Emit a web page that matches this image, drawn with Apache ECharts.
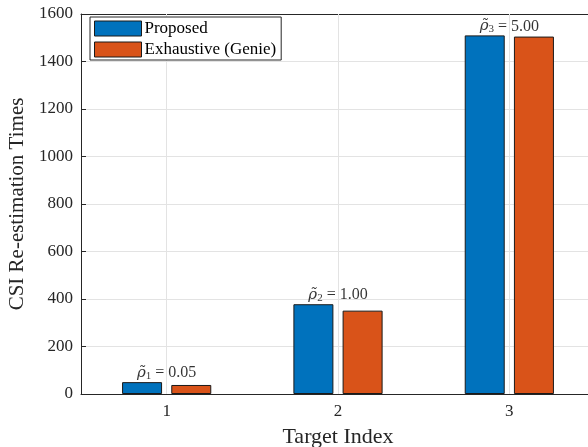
<!DOCTYPE html>
<html>
<head>
<meta charset="utf-8">
<script src="https://cdn.jsdelivr.net/npm/echarts@6/dist/echarts.min.js"></script>
<style>
  html, body { margin: 0; padding: 0; overflow: hidden; background: #fff; }
  #chart { width: 588px; height: 447px; }
</style>
</head>
<body>
<div id="chart"></div>
<script>
// Target indices and re-estimation counts per method
const categories = ['1', '2', '3'];
const proposed = [50, 378, 1510];
const exhaustive = [38, 351, 1505];
const rhoLabels = ['0.05', '1.00', '5.00'];
const rhoSubs = ['1', '2', '3'];
const yTicks = [0, 200, 400, 600, 800, 1000, 1200, 1400, 1600];

const serif = '"Liberation Serif", "DejaVu Serif", serif';
const axisColor = '#262626';
const gridColor = '#e3e3e3';

const chart = echarts.init(document.getElementById('chart'));

// annotation anchors sit on the taller bar of each group
const annot = categories.map((c, i) => ({
  value: [c, Math.max(proposed[i], exhaustive[i])],
  idx: i
}));

chart.setOption({
  animation: false,
  textStyle: { fontFamily: serif },
  // plot box runs slightly past the right edge of the canvas
  grid: { left: 81, top: 14, right: -7, bottom: 53, containLabel: false, outerBoundsMode: 'none' },
  legend: {
    left: 90, top: 17,
    z: 20,
    orient: 'vertical',
    data: ['Proposed', 'Exhaustive (Genie)'],
    icon: 'rect',
    itemWidth: 47, itemHeight: 15, itemGap: 4,
    padding: [3, 5, 2, 4],
    borderColor: '#262626', borderWidth: 1,
    backgroundColor: '#fff',
    textStyle: { fontFamily: serif, fontSize: 17, color: '#000', padding: [0, 0, 0, -2] },
    itemStyle: { borderColor: '#1a1a1a', borderWidth: 1 }
  },
  xAxis: [{
    type: 'category',
    data: categories,
    name: 'Target Index',
    nameLocation: 'middle',
    nameGap: 32,
    nameTextStyle: { fontFamily: serif, fontSize: 22, color: axisColor },
    axisLine: { lineStyle: { color: axisColor } },
    axisTick: { show: true, inside: true, alignWithLabel: true, length: 5, lineStyle: { color: axisColor } },
    axisLabel: { fontFamily: serif, fontSize: 17, color: axisColor, margin: 9 },
    splitLine: { show: false }
  }, {
    type: 'category',
    data: categories,
    position: 'top',
    axisLine: { show: true, onZero: false, lineStyle: { color: axisColor } },
    axisTick: { show: true, inside: true, alignWithLabel: true, length: 5, lineStyle: { color: axisColor } },
    axisLabel: { show: false },
    splitLine: { show: false }
  }],
  yAxis: [{
    type: 'value',
    min: 0, max: 1600, interval: 200,
    name: 'CSI Re-estimation Times',
    nameLocation: 'middle',
    nameGap: 44,
    nameTextStyle: { fontFamily: serif, fontSize: 21, color: axisColor },
    axisLine: { show: true, lineStyle: { color: axisColor } },
    axisTick: { show: true, inside: true, length: 5, lineStyle: { color: axisColor } },
    axisLabel: { fontFamily: serif, fontSize: 17, color: axisColor, margin: 8,
      formatter: v => String(v) },
    splitLine: { show: true, lineStyle: { color: gridColor } }
  }, {
    type: 'value',
    min: 0, max: 1600, interval: 200,
    position: 'right',
    axisLine: { show: true, lineStyle: { color: axisColor } },
    axisTick: { show: true, inside: true, length: 5, lineStyle: { color: axisColor } },
    axisLabel: { show: false },
    splitLine: { show: false }
  }],
  series: [{
    // vertical grid lines through each category centre
    name: 'xgrid',
    type: 'line',
    data: [],
    silent: true,
    z: 1,
    markLine: {
      silent: true,
      symbol: 'none',
      label: { show: false },
      lineStyle: { color: gridColor, type: 'solid', width: 1 },
      data: categories.map(c => ({ xAxis: c }))
    }
  }, {
    name: 'Proposed',
    type: 'bar',
    data: proposed,
    barWidth: 40,
    barGap: '23%',
    z: 3,
    itemStyle: { color: '#0072BD', borderColor: '#1a1a1a', borderWidth: 1 }
  }, {
    name: 'Exhaustive (Genie)',
    type: 'bar',
    data: exhaustive,
    barWidth: 40,
    barGap: '23%',
    z: 3,
    itemStyle: { color: '#D95319', borderColor: '#1a1a1a', borderWidth: 1 }
  }, {
    name: 'rho',
    type: 'scatter',
    data: annot,
    symbolSize: 0,
    silent: true,
    z: 5,
    label: {
      show: true,
      position: 'top',
      distance: 1,
      formatter: p => '{r|\u03C1\u0303}{s|' + rhoSubs[p.data.idx] + '}{n| = ' + rhoLabels[p.data.idx] + '}',
      rich: {
        r: { fontFamily: '"DejaVu Serif", serif', fontStyle: 'italic', fontSize: 15, color: '#000' },
        s: { fontFamily: serif, fontSize: 11, color: '#000', verticalAlign: 'bottom', lineHeight: 14 },
        n: { fontFamily: serif, fontSize: 16, color: '#000' }
      }
    }
  }]
});
</script>
</body>
</html>
